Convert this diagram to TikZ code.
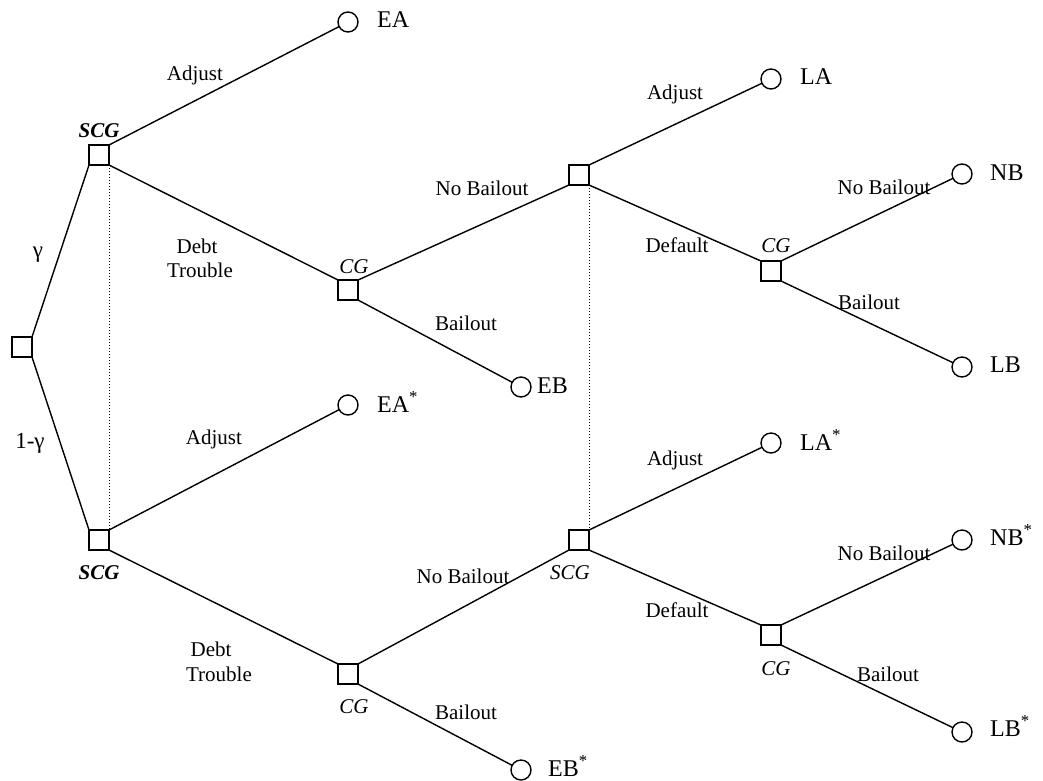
\documentclass[tikz,border=0pt]{standalone}
\usepackage{fontspec}
\setmainfont{Liberation Serif}
\begin{document}
\begin{tikzpicture}[x=1pt,y=-1pt,
  dec/.style={draw, rectangle, minimum size=20pt, inner sep=0pt, outer sep=0pt, line width=1.4pt},
  term/.style={draw, circle, minimum size=20pt, inner sep=0pt, outer sep=0pt, line width=1.4pt},
  branch/.style={line width=1.4pt},
  info/.style={dotted, line width=1pt},
  lab/.style={font=\fontsize{21}{24}\selectfont, anchor=base, inner sep=0pt},
  pl/.style={font=\fontsize{21}{24}\selectfont\itshape, anchor=base, inner sep=0pt},
  plb/.style={font=\fontsize{21}{24}\selectfont\bfseries\itshape, anchor=base, inner sep=0pt},
  pay/.style={font=\fontsize{24}{28}\selectfont, anchor=base west, inner sep=0pt},
  prob/.style={font=\fontsize{23}{26}\selectfont, inner sep=0pt}]
\useasboundingbox (0,0) rectangle (1043,780);

% decision nodes
\node[dec] (root) at (22,347) {};
\node[dec] (s1) at (99,155) {};
\node[dec] (s2) at (99,540) {};
\node[dec] (c1) at (348,290) {};
\node[dec] (c2) at (348,674) {};
\node[dec] (m1) at (579,175) {};
\node[dec] (m2) at (579,540) {};
\node[dec] (r1) at (771,271) {};
\node[dec] (r2) at (771,635) {};

% terminal nodes
\node[term] (ea) at (348,22) {};
\node[term] (ea2) at (348,405) {};
\node[term] (eb) at (521,387) {};
\node[term] (eb2) at (521,770) {};
\node[term] (la) at (771,79) {};
\node[term] (la2) at (771,443) {};
\node[term] (nb) at (962,174) {};
\node[term] (nb2) at (962,540) {};
\node[term] (lb) at (962,367) {};
\node[term] (lb2) at (962,732) {};

% branches
\draw[branch] (root.north east) -- (s1.south west);
\draw[branch] (root.south east) -- (s2.north west);
\draw[branch] (s1.north east) -- (ea);
\draw[branch] (s1.south east) -- (c1.north west);
\draw[branch] (c1.north east) -- (m1.south west);
\draw[branch] (c1.south east) -- (eb);
\draw[branch] (m1.north east) -- (la);
\draw[branch] (m1.south east) -- (r1.north west);
\draw[branch] (r1.north east) -- (nb);
\draw[branch] (r1.south east) -- (lb);
\draw[branch] (s2.north east) -- (ea2);
\draw[branch] (s2.south east) -- (c2.north west);
\draw[branch] (c2.north east) -- (m2.south west);
\draw[branch] (c2.south east) -- (eb2);
\draw[branch] (m2.north east) -- (la2);
\draw[branch] (m2.south east) -- (r2.north west);
\draw[branch] (r2.north east) -- (nb2);
\draw[branch] (r2.south east) -- (lb2);

% information sets
\draw[info] (s1.south east) -- (s2.north east);
\draw[info] (m1.south east) -- (m2.north east);

% probabilities
\node[prob] (g1) at (38,255) {γ};
\node[prob] (g2) at (30,443) {1-γ};

% player labels
\node[plb] (ls1) at (99,137) {SCG};
\node[plb] (ls2) at (99,579) {SCG};
\node[pl] (lc1) at (354,273) {CG};
\node[pl] (lc2) at (354,713) {CG};
\node[pl] (lm2) at (570,579) {SCG};
\node[pl] (lr1) at (776,252) {CG};
\node[pl] (lr2) at (776,675) {CG};

% action labels
\node[lab] (a1) at (195,80) {Adjust};
\node[lab] (d1) at (197,253) {Debt};
\node[lab] (t1) at (200,277) {Trouble};
\node[lab] (a2) at (214,444) {Adjust};
\node[lab] (d2) at (211,656) {Debt};
\node[lab] (t2) at (219,681) {Trouble};
\node[lab] (nb1l) at (482,195) {No Bailout};
\node[lab] (b1l) at (466,330) {Bailout};
\node[lab] (nb2l) at (463,583) {No Bailout};
\node[lab] (b2l) at (466,719) {Bailout};
\node[lab] (a3) at (675,99) {Adjust};
\node[lab] (df1) at (677,252) {Default};
\node[lab] (a4) at (675,465) {Adjust};
\node[lab] (df2) at (677,617) {Default};
\node[lab] (nb3l) at (884,194) {No Bailout};
\node[lab] (b3l) at (869,309) {Bailout};
\node[lab] (nb4l) at (884,560) {No Bailout};
\node[lab] (b4l) at (888,681) {Bailout};

% payoffs
\node[pay] (pea) at (377,27) {EA};
\node[pay] (pea2) at (377,412) {EA\textsuperscript{*}};
\node[pay] (peb) at (537,393) {EB};
\node[pay] (peb2) at (548,776) {EB\textsuperscript{*}};
\node[pay] (pla) at (800,84) {LA};
\node[pay] (pla2) at (800,450) {LA\textsuperscript{*}};
\node[pay] (pnb) at (990,180) {NB};
\node[pay] (pnb2) at (990,545) {NB\textsuperscript{*}};
\node[pay] (plb) at (990,372) {LB};
\node[pay] (plb2) at (990,736) {LB\textsuperscript{*}};
\end{tikzpicture}
\end{document}
